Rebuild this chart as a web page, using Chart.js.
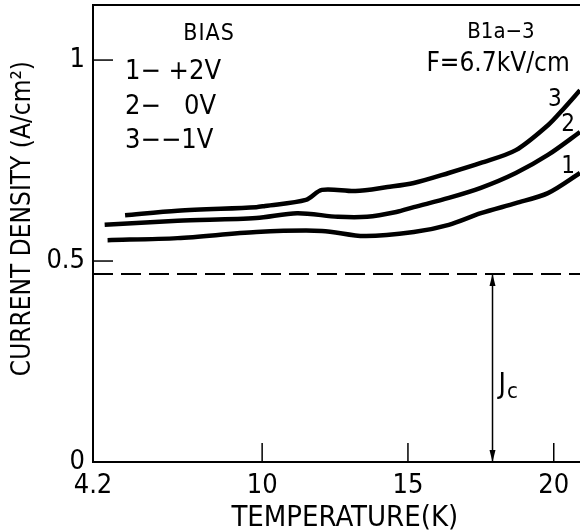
<!DOCTYPE html>
<html lang="en">
<head>
<meta charset="UTF-8" />
<title>Current density vs temperature</title>
<script src="https://cdn.jsdelivr.net/npm/chart.js"></script>
<style>
  html, body { margin: 0; padding: 0; background: #fff; }
  #wrap { position: relative; width: 580px; height: 532px; }
</style>
</head>
<body>
<div id="wrap"><canvas id="grafico"></canvas></div>
<script>
  // curva 1: bias +2 V
  const temp1 = [4.7, 7.1, 9.8, 12.05, 13.5, 15.2, 16.4, 17.5, 18.7, 19.8, 20.9];
  const dens1 = [0.552, 0.557, 0.572, 0.575, 0.562, 0.572, 0.590, 0.619, 0.644, 0.669, 0.719];
  // curva 2: bias 0 V
  const temp2 = [4.6, 7.1, 9.8, 11.2, 12.6, 13.6, 14.6, 15.2, 16.4, 17.5, 18.7, 19.8, 20.9];
  const dens2 = [0.590, 0.600, 0.607, 0.619, 0.610, 0.610, 0.622, 0.634, 0.657, 0.682, 0.719, 0.764, 0.821];
  // curva 3: bias -1 V
  const temp3 = [5.3, 7.1, 9.8, 10.1, 11.5, 12.05, 13.2, 14.3, 15.2, 16.4, 17.5, 18.7, 19.8, 20.3, 20.9];
  const dens3 = [0.614, 0.625, 0.634, 0.637, 0.652, 0.677, 0.674, 0.684, 0.694, 0.719, 0.744, 0.776, 0.838, 0.876, 0.925];

  // nivel Jc (linea discontinua) y posicion de la flecha
  const jcLevel = 0.468;
  const jcTemp = 17.9;

  const xTicks = [4.2, 10, 15, 20];
  const yTicks = [0, 0.5, 1];

  const FONT = "'Liberation Sans Narrow', 'DejaVu Sans Condensed', 'Liberation Sans', sans-serif";

  const pts = (xs, ys) => xs.map((x, i) => ({ x: x, y: ys[i] }));

  const notas = [
    { text: 'BIAS', x: 8.18, y: 1.065, size: 23, align: 'center', sp: 1 },
    { text: '1\u2212 +2V', x: 5.3, y: 0.97, size: 27, align: 'left', sp: 0 },
    { text: '2\u2212   0V', x: 5.3, y: 0.883, size: 27, align: 'left', sp: 0 },
    { text: '3\u2212\u22121V', x: 5.3, y: 0.799, size: 27, align: 'left', sp: 0 },
    { text: 'B1a\u22123', x: 18.19, y: 1.07, size: 22, align: 'center', sp: 0 },
    { text: 'F=6.7kV/cm', x: 18.09, y: 0.99, size: 26, align: 'center', sp: 0 },
    { text: '3', x: 20.04, y: 0.9, size: 24, align: 'center', sp: 0 },
    { text: '2', x: 20.49, y: 0.838, size: 24, align: 'center', sp: 0 },
    { text: '1', x: 20.49, y: 0.734, size: 24, align: 'center', sp: 0 },
  ];

  const extras = {
    id: 'extras',
    afterDatasetsDraw(chart) {
      const { ctx, chartArea, scales } = chart;
      const xs = scales.x, ys = scales.y;
      ctx.save();
      ctx.strokeStyle = '#000';
      ctx.fillStyle = '#000';

      // borde superior
      ctx.lineWidth = 2;
      ctx.beginPath();
      ctx.moveTo(chartArea.left, chartArea.top);
      ctx.lineTo(chartArea.right, chartArea.top);
      ctx.stroke();

      // marcas hacia dentro
      ctx.lineWidth = 1.5;
      yTicks.filter(v => v > 0).forEach(v => {
        const py = ys.getPixelForValue(v);
        ctx.beginPath();
        ctx.moveTo(chartArea.left, py);
        ctx.lineTo(chartArea.left + 20, py);
        ctx.stroke();
      });
      xTicks.filter(v => v > 4.2).forEach(v => {
        const px = xs.getPixelForValue(v);
        ctx.beginPath();
        ctx.moveTo(px, chartArea.bottom);
        ctx.lineTo(px, chartArea.bottom - 19);
        ctx.stroke();
      });

      // puntas de flecha Jc
      const ax = xs.getPixelForValue(jcTemp);
      const aTop = ys.getPixelForValue(jcLevel);
      const aBot = ys.getPixelForValue(0);
      ctx.beginPath();
      ctx.moveTo(ax, aTop);
      ctx.lineTo(ax - 3, aTop + 12);
      ctx.lineTo(ax + 3, aTop + 12);
      ctx.closePath();
      ctx.fill();
      ctx.beginPath();
      ctx.moveTo(ax, aBot);
      ctx.lineTo(ax - 3, aBot - 12);
      ctx.lineTo(ax + 3, aBot - 12);
      ctx.closePath();
      ctx.fill();

      // textos
      ctx.textBaseline = 'middle';
      notas.forEach(n => {
        ctx.font = n.size + 'px ' + FONT;
        ctx.textAlign = n.align;
        if ('letterSpacing' in ctx) ctx.letterSpacing = n.sp + 'px';
        ctx.fillText(n.text, xs.getPixelForValue(n.x), ys.getPixelForValue(n.y));
      });
      if ('letterSpacing' in ctx) ctx.letterSpacing = '0px';

      // J con subindice c
      const jx = ax + 6;
      const jy = ys.getPixelForValue(0.19);
      ctx.textAlign = 'left';
      ctx.font = '28px ' + FONT;
      ctx.fillText('J', jx, jy);
      const jw = ctx.measureText('J').width;
      ctx.font = '22px ' + FONT;
      ctx.fillText('c', jx + jw + 1, jy + 7);
      ctx.restore();
    }
  };

  new Chart(document.getElementById('grafico'), {
    type: 'line',
    data: {
      datasets: [
        { label: '+2V', data: pts(temp1, dens1), borderColor: '#000', borderWidth: 4.5, pointRadius: 0, tension: 0.3, fill: false },
        { label: '0V', data: pts(temp2, dens2), borderColor: '#000', borderWidth: 4.5, pointRadius: 0, tension: 0.3, fill: false },
        { label: '-1V', data: pts(temp3, dens3), borderColor: '#000', borderWidth: 4.5, pointRadius: 0, tension: 0.3, fill: false },
        { label: 'Jc nivel', data: [{ x: 4.2, y: jcLevel }, { x: 20.9, y: jcLevel }], borderColor: '#000', borderWidth: 2, borderDash: [20, 8], pointRadius: 0 },
        { label: 'Jc flecha', data: [{ x: jcTemp, y: jcLevel }, { x: jcTemp, y: 0 }], borderColor: '#000', borderWidth: 1.5, pointRadius: 0 },
      ],
    },
    options: {
      responsive: true,
      maintainAspectRatio: false,
      animation: false,
      layout: { padding: { top: 5, right: 0, left: 0, bottom: 0 } },
      plugins: { legend: { display: false }, tooltip: { enabled: false } },
      scales: {
        x: {
          type: 'linear',
          min: 4.2,
          max: 20.9,
          afterBuildTicks: (s) => { s.ticks = xTicks.map(v => ({ value: v })); },
          afterFit: (s) => { s.height = 70; s.paddingLeft = 0; s.paddingRight = 0; },
          grid: { display: false },
          border: { display: true, color: '#000', width: 2 },
          ticks: {
            color: '#000',
            padding: 0,
            maxRotation: 0,
            autoSkip: false,
            font: { family: FONT, size: 27 },
            callback: (v) => String(v),
          },
          title: {
            display: true,
            text: '  TEMPERATURE(K)',
            color: '#000',
            font: { family: FONT, size: 29 },
            padding: { top: 0, bottom: -4 },
          },
        },
        y: {
          type: 'linear',
          min: 0,
          max: 1.137,
          afterBuildTicks: (s) => { s.ticks = yTicks.map(v => ({ value: v })); },
          afterFit: (s) => { s.width = 93; s.paddingTop = 0; s.paddingBottom = 0; },
          grid: { display: false },
          border: { display: true, color: '#000', width: 2 },
          ticks: {
            color: '#000',
            padding: 0,
            autoSkip: false,
            font: { family: FONT, size: 27 },
            callback: (v) => String(v),
          },
          title: {
            display: true,
            // espacios iniciales: desplazan el texto hacia arriba como en el original
            text: '    CURRENT DENSITY (A/cm\u00b2)',
            color: '#000',
            font: { family: FONT, size: 26 },
            padding: { top: 8, bottom: 0 },
          },
        },
      },
    },
    plugins: [extras],
  });
</script>
</body>
</html>
